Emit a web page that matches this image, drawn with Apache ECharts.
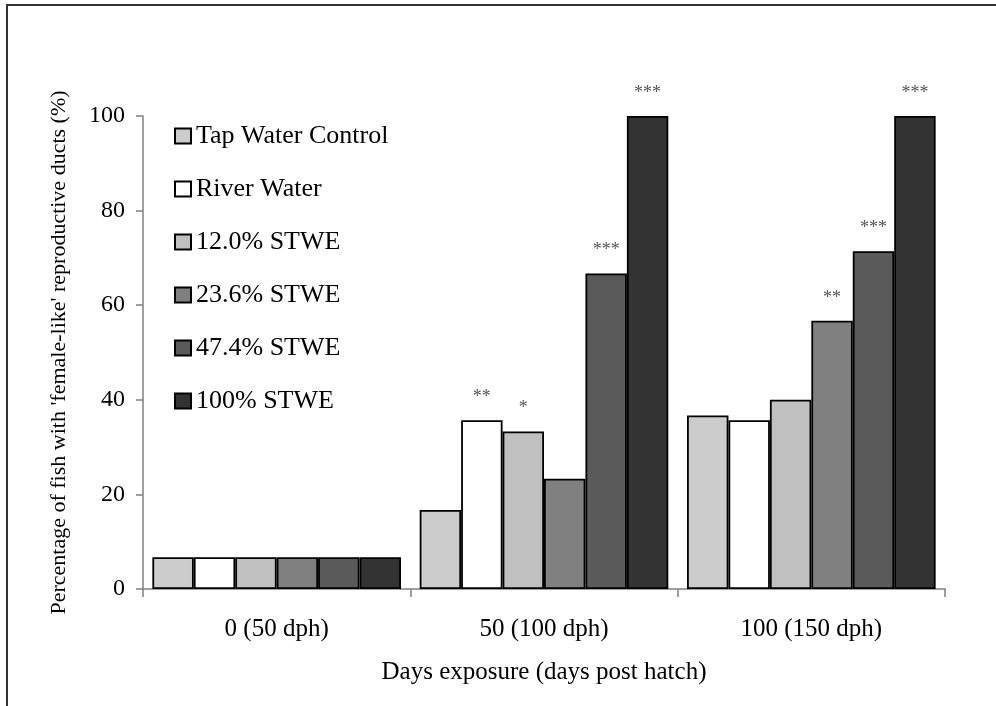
<!DOCTYPE html>
<html>
<head>
<meta charset="utf-8">
<script src="https://cdn.jsdelivr.net/npm/echarts@6/dist/echarts.min.js"></script>
<style>html,body{margin:0;padding:0;background:#fff}#c{width:996px;height:706px}</style>
</head>
<body>
<div id="c"></div>
<script>
var categories = ['0 (50 dph)', '50 (100 dph)', '100 (150 dph)'];
var seriesNames = ['Tap Water Control', 'River Water', '12.0% STWE', '23.6% STWE', '47.4% STWE', '100% STWE'];
var tapWater = [6.7, 16.7, 36.7];
var riverWater = [6.7, 35.7, 35.7];
var stwe12 = [6.7, 33.3, 40.0];
var stwe23 = [6.7, 23.3, 56.7];
var stwe47 = [6.7, 66.7, 71.4];
var stwe100 = [6.7, 100, 100];
var sigTap = ['', '', ''];
var sigRiver = ['', '**', ''];
var sig12 = ['', '*', ''];
var sig23 = ['', '', '**'];
var sig47 = ['', '***', '***'];
var sig100 = ['', '***', '***'];
var yTicks = [0, 20, 40, 60, 80, 100];
var colors = ['#cccccc', '#ffffff', '#c0c0c0', '#808080', '#5a5a5a', '#333333'];

var FONT = "'Liberation Serif', 'Times New Roman', serif";
var values = [tapWater, riverWater, stwe12, stwe23, stwe47, stwe100];
var sigs = [sigTap, sigRiver, sig12, sig23, sig47, sig100];

var series = seriesNames.map(function (name, i) {
  return {
    name: name,
    type: 'bar',
    barGap: '0%',
    barCategoryGap: '7%',
    itemStyle: { color: colors[i], borderColor: '#000', borderWidth: 1.8 },
    data: values[i].map(function (v, j) {
      return {
        value: v,
        label: {
          show: sigs[i][j] !== '',
          formatter: sigs[i][j],
          position: 'top',
          distance: 14,
          color: '#555',
          fontSize: 18,
          fontFamily: FONT
        }
      };
    })
  };
});

var chart = echarts.init(document.getElementById('c'), null, { renderer: 'canvas' });
chart.setOption({
  animation: false,
  backgroundColor: '#fff',
  grid: { left: 143, right: 51, top: 116, bottom: 117, containLabel: false },
  legend: {
    orient: 'vertical',
    left: 174,
    top: 123,
    padding: 0,
    itemWidth: 16,
    itemHeight: 15,
    itemGap: 27,
    itemTextGap: 10,
    icon: 'rect',
    textStyle: { fontFamily: FONT, fontSize: 26, color: '#000' },
    itemStyle: { borderColor: '#000', borderWidth: 2 },
    data: seriesNames
  },
  xAxis: {
    type: 'category',
    data: categories,
    name: 'Days exposure (days post hatch)',
    nameLocation: 'middle',
    nameGap: 71,
    nameTextStyle: { fontFamily: FONT, fontSize: 25, color: '#000' },
    axisLine: { lineStyle: { color: '#808080', width: 1.5 } },
    axisTick: { show: true, length: 8, lineStyle: { color: '#808080', width: 1.5 } },
    axisLabel: { fontFamily: FONT, fontSize: 25, color: '#000', margin: 28 },
    splitLine: { show: false }
  },
  yAxis: {
    type: 'value',
    min: yTicks[0],
    max: yTicks[yTicks.length - 1],
    interval: 20,
    name: "Percentage of fish with 'female-like' reproductive ducts (%)",
    nameLocation: 'middle',
    nameGap: 73,
    nameRotate: 90,
    nameTextStyle: { fontFamily: FONT, fontSize: 22, color: '#000' },
    axisLine: { show: true, lineStyle: { color: '#808080', width: 1.5 } },
    axisTick: { show: true, length: 7, lineStyle: { color: '#808080', width: 1.5 } },
    axisLabel: { fontFamily: FONT, fontSize: 24, color: '#000', margin: 18 },
    splitLine: { show: false }
  },
  series: series,
  graphic: [
    { type: 'line', shape: { x1: 7, y1: 5, x2: 7, y2: 706 }, style: { stroke: '#333', lineWidth: 2 } },
    { type: 'line', shape: { x1: 6, y1: 5, x2: 996, y2: 5 }, style: { stroke: '#333', lineWidth: 2 } }
  ]
});
</script>
</body>
</html>
